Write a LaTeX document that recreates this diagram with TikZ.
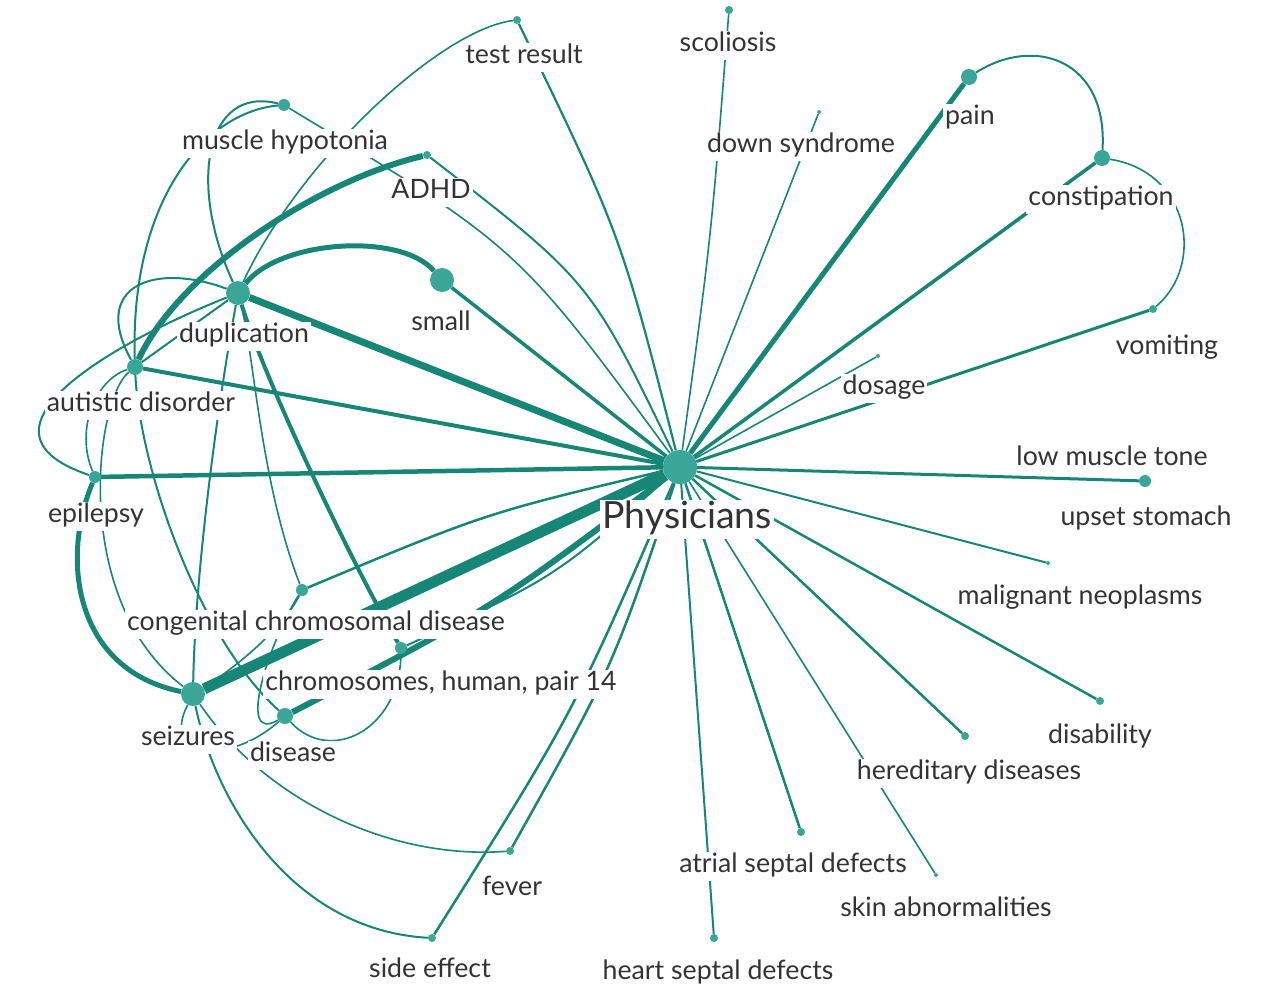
\documentclass[tikz,border=0pt]{standalone}
\usepackage{fontspec}
\setmainfont{Lato}
\definecolor{edgec}{RGB}{24,134,118}
\definecolor{nodec}{RGB}{58,166,151}
\definecolor{txt}{RGB}{51,51,51}
\pgfdeclarelayer{bg}
\pgfsetlayers{bg,main}
\begin{document}
\begin{tikzpicture}[x=1pt,y=-1pt,
  vx/.style={circle,fill=nodec,inner sep=0pt,minimum size=#1},
  lab/.style={fill=white,text=txt,inner sep=2pt,yshift=-3pt,font=\fontsize{26.7}{30}\selectfont,text height=19pt,text depth=6pt},
  biglab/.style={fill=white,text=txt,inner sep=2pt,yshift=-3pt,font=\fontsize{37.5}{42}\selectfont,text height=27pt,text depth=8pt},
  e/.style={draw=edgec,line width=#1},
]
\useasboundingbox (0,0) rectangle (1280,985);
% vertices
\node[vx=34] (P) at (680,467) {};
\node[vx=8] (test) at (517,20) {};
\node[vx=8] (scol) at (729,10) {};
\node[vx=4] (downs) at (819,112) {};
\node[vx=16] (pain) at (969,77) {};
\node[vx=16] (const) at (1102,158) {};
\node[vx=8] (vomit) at (1153,309) {};
\node[vx=4] (dosage) at (878,356) {};
\node[vx=12] (upset) at (1145,481) {};
\node[vx=4] (malig) at (1048,563) {};
\node[vx=8] (disab) at (1100,701) {};
\node[vx=8] (hered) at (965,736) {};
\node[vx=4] (skin) at (936,875) {};
\node[vx=8] (atrial) at (801,832) {};
\node[vx=8] (heart) at (714,938) {};
\node[vx=8] (fever) at (510,851) {};
\node[vx=8] (side) at (432,938) {};
\node[vx=24] (small) at (442,280) {};
\node[vx=8] (adhd) at (427,155) {};
\node[vx=12] (mh) at (284,105) {};
\node[vx=24] (dup) at (238,293) {};
\node[vx=16] (aut) at (135,367) {};
\node[vx=12] (epi) at (95,477) {};
\node[vx=12] (ccd) at (302,590) {};
\node[vx=12] (chrom) at (401,648) {};
\node[vx=24] (seiz) at (193,694) {};
\node[vx=16] (dis) at (285,716) {};
\begin{pgfonlayer}{bg}
\fill[white] (0,0) rectangle (1280,985);
% edges from Physicians
\draw[e=1.6] (P) -- (downs);
\draw[e=5] (P) -- (pain);
\draw[e=3.5] (P) -- (const);
\draw[e=3] (P) -- (vomit);
\draw[e=1.6] (P) -- (dosage);
\draw[e=3] (P) -- (upset);
\draw[e=2] (P) -- (malig);
\draw[e=2.5] (P) -- (disab);
\draw[e=2.5] (P) -- (hered);
\draw[e=1.6] (P) -- (skin);
\draw[e=2.5] (P) -- (atrial);
\draw[e=2] (P) -- (heart);
\draw[e=2.5] (P) .. controls (613,667) .. (fever);
\draw[e=2.5] (P) .. controls (574,712) .. (side);
\draw[e=3.5] (P) -- (small);
\draw[e=2] (P) .. controls (590,281) .. (adhd);
\draw[e=1.6] (P) .. controls (518,247) .. (mh);
\draw[e=2.2] (P) .. controls (621,235) .. (test);
\draw[e=1.6] (P) .. controls (711,239) .. (scol);
\draw[e=7] (P) -- (dup);
\draw[e=4] (P) -- (aut);
\draw[e=4.5] (P) -- (epi);
\draw[e=2.5] (P) .. controls (486,513) .. (ccd);
\draw[e=11] (P) -- (seiz);
\draw[e=2] (P) .. controls (554,578) .. (chrom);
\draw[e=6] (P) .. controls (493,608) .. (dis);
% other edges
\draw[e=5] (dup) .. controls (280,240) and (400,232) .. (small);
\draw[e=6] (aut) .. controls (180,270) and (320,180) .. (adhd);
\draw[e=2] (mh) .. controls (205,112) and (130,200) .. (aut);
\draw[e=2] (mh) .. controls (205,85) and (188,185) .. (dup);
\draw[e=1.6] (test) .. controls (440,30) and (300,160) .. (dup);
\draw[e=2] (dup) -- (aut);
\draw[e=2] (dup) .. controls (155,262) and (90,285) .. (aut);
\draw[e=2] (dup) .. controls (120,340) and (-45,430) .. (epi);
\draw[e=1.6] (aut) .. controls (95,380) and (75,430) .. (epi);
\draw[e=1.6] (aut) .. controls (95,400) and (70,600) .. (seiz);
\draw[e=2] (aut) .. controls (140,470) and (200,640) .. (dis);
\draw[e=2] (dup) .. controls (215,420) and (195,580) .. (seiz);
\draw[e=1.6] (dup) .. controls (255,360) and (260,480) .. (ccd);
\draw[e=4] (dup) .. controls (265,380) and (350,560) .. (chrom);
\draw[e=5] (epi) .. controls (60,560) and (75,670) .. (seiz);
\draw[e=1.6] (ccd) .. controls (285,625) and (240,665) .. (seiz);
\draw[e=1.6] (ccd) .. controls (270,640) and (235,745) .. (dis);
\draw[e=1.6] (dis) .. controls (330,765) and (400,730) .. (chrom);
\draw[e=1.6] (seiz) .. controls (160,760) and (230,765) .. (dis);
\draw[e=2] (seiz) .. controls (215,800) and (290,930) .. (side);
\draw[e=1.6] (seiz) .. controls (265,800) and (390,860) .. (fever);
\draw[e=2] (pain) .. controls (1035,35) and (1108,60) .. (const);
\draw[e=1.6] (const) .. controls (1190,172) and (1205,265) .. (vomit);
\end{pgfonlayer}
% labels
\node[biglab] (P-l) at (687,516) {Physicians};
\node[lab] (test-l) at (524,54) {test result};
\node[lab] (scol-l) at (728,42) {scoliosis};
\node[lab] (downs-l) at (801,143) {down syndrome};
\node[lab] (pain-l) at (970,115) {pain};
\node[lab] (const-l) at (1101,196) {constipation};
\node[lab] (vomit-l) at (1167,345) {vomiting};
\node[lab] (dosage-l) at (884,385) {dosage};
\node[lab] (lmt-l) at (1112,456) {low muscle tone};
\node[lab] (upset-l) at (1146,516) {upset stomach};
\node[lab] (malig-l) at (1080,595) {malignant neoplasms};
\node[lab] (disab-l) at (1100,734) {disability};
\node[lab] (hered-l) at (969,770) {hereditary diseases};
\node[lab] (skin-l) at (946,907) {skin abnormalities};
\node[lab] (atrial-l) at (793,863) {atrial septal defects};
\node[lab] (heart-l) at (718,970) {heart septal defects};
\node[lab] (fever-l) at (512,886) {fever};
\node[lab] (side-l) at (430,968) {side effect};
\node[lab] (small-l) at (441,321) {small};
\node[lab] (adhd-l) at (431,189) {ADHD};
\node[lab] (mh-l) at (285,140) {muscle hypotonia};
\node[lab] (dup-l) at (244,333) {duplication};
\node[lab] (aut-l) at (141,402) {autistic disorder};
\node[lab] (epi-l) at (96,513) {epilepsy};
\node[lab] (ccd-l) at (316,621) {congenital chromosomal disease};
\node[lab] (chrom-l) at (441,681) {chromosomes, human, pair 14};
\node[lab] (seiz-l) at (188,736) {seizures};
\node[lab] (dis-l) at (293,752) {disease};
\end{tikzpicture}
\end{document}
